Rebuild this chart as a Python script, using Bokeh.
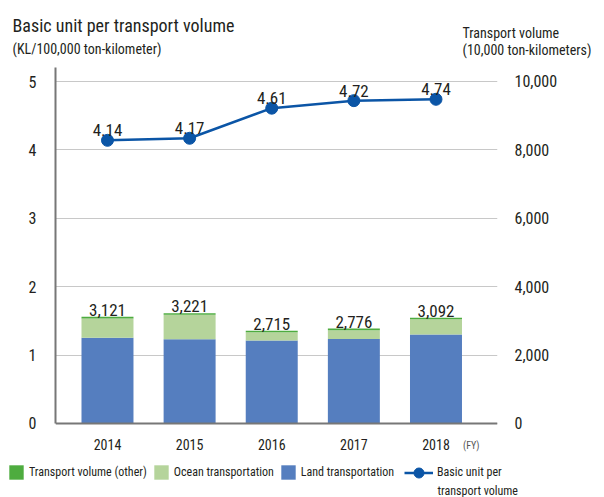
from bokeh.plotting import figure
from bokeh.layouts import column
from bokeh.models import (Range1d, LinearAxis, FixedTicker, Label, Legend, LegendItem,
                          ColumnDataSource)
from bokeh.embed import file_html
from bokeh.resources import INLINE
from bokeh.core.properties import value

# ---- data ----
years = [2014, 2015, 2016, 2017, 2018]
year_labels = ["2014", "2015", "2016", "2017", "2018"]
land = [2510, 2460, 2430, 2470, 2600]
ocean = [560, 720, 240, 260, 445]
totals = [3121, 3221, 2715, 2776, 3092]
other = [t - a - b for t, a, b in zip(totals, land, ocean)]
basic_unit = [4.14, 4.17, 4.61, 4.72, 4.74]
left_ticks = [0, 1, 2, 3, 4, 5]
right_ticks = [0, 2000, 4000, 6000, 8000, 10000]

FONT = "Roboto Condensed"
TXT = "#231f20"
C_LAND = "#557ebf"
C_OCEAN = "#b5d49b"
C_OTHER = "#4eac3f"
C_LINE = "#0b55a6"
W = 604


def blank(height):
    f = figure(width=W, height=height, output_backend="svg", toolbar_location=None,
               x_range=Range1d(0, W), y_range=Range1d(0, height),
               x_axis_type=None, y_axis_type=None, min_border=0)
    f.frame_align = False
    f.outline_line_color = None
    f.xgrid.visible = False
    f.ygrid.visible = False
    return f


def lab(fig, x, y, t, size, color=TXT):
    fig.add_layout(Label(x=x, y=y, x_units="screen", y_units="screen", text=t,
                         text_font=FONT, text_font_size=size, text_color=color,
                         text_baseline="alphabetic"))


# ---------- header ----------
head = blank(67)
lab(head, 12, 42, "Basic unit per transport volume", "18px")
lab(head, 12, 19, "(KL/100,000 ton-kilometer)", "14px")
lab(head, 462, 35, "Transport volume", "14px")
lab(head, 462, 18, "(10,000 ton-kilometers)", "14px")

# ---------- main chart ----------
src = ColumnDataSource(dict(
    x=years, land=land, ocean=ocean, other=other, totals=totals,
    tot_txt=[f"{t:,}" for t in totals],
    unit=basic_unit, unit_txt=[f"{v:.2f}" for v in basic_unit],
))

p = figure(width=W, height=385, output_backend="svg", toolbar_location=None,
           x_range=Range1d(2013.367, 2018.749), y_range=Range1d(-0.424, 5.2047),
           min_border_left=55, min_border_right=107, min_border_top=0,
           min_border_bottom=0)
p.frame_align = False
p.outline_line_color = None
p.extra_y_ranges = {"vol": Range1d(-848, 10409)}

p.xaxis.fixed_location = 0
p.xaxis.ticker = FixedTicker(ticks=years)
p.xaxis.major_label_overrides = {y: l for y, l in zip(years, year_labels)}
p.xaxis.axis_line_color = "#777777"
p.xaxis.axis_line_width = 2
p.xaxis.major_tick_line_color = None
p.xaxis.minor_tick_line_color = None
p.xaxis.major_label_text_font = FONT
p.xaxis.major_label_text_font_size = "14px"
p.xaxis.major_label_text_color = TXT
p.xaxis.major_label_standoff = 10

p.yaxis.ticker = FixedTicker(ticks=left_ticks)
p.yaxis.bounds = (0, 5.2047)
p.yaxis.axis_line_color = "#777777"
p.yaxis.axis_line_width = 2
p.yaxis.major_tick_line_color = None
p.yaxis.minor_tick_line_color = None
p.yaxis.major_label_text_font = FONT
p.yaxis.major_label_text_font_size = "16px"
p.yaxis.major_label_text_color = TXT
p.yaxis.major_label_standoff = 13

ry = LinearAxis(y_range_name="vol", ticker=FixedTicker(ticks=right_ticks))
ry.major_label_overrides = {t: f"{t:,}" for t in right_ticks}
ry.axis_line_color = None
ry.major_tick_line_color = None
ry.minor_tick_line_color = None
ry.major_label_text_font = FONT
ry.major_label_text_font_size = "16px"
ry.major_label_text_color = TXT
ry.major_label_standoff = 11
p.add_layout(ry, "right")

p.xgrid.visible = False
p.ygrid.ticker = FixedTicker(ticks=left_ticks)
p.ygrid.grid_line_color = "#c8c8c8"
p.ygrid.grid_line_width = 1

BAR_COLORS = [C_LAND, C_OCEAN, C_OTHER]
bars = p.vbar_stack(["land", "ocean", "other"], x="x", width=0.633, source=src,
                    color=BAR_COLORS, line_color=None, y_range_name="vol")
line_r = p.line("x", "unit", source=src, line_width=2.5, color=C_LINE)
dot_r = p.scatter("x", "unit", source=src, size=12, color=C_LINE)

p.text("x", "unit", text="unit_txt", source=src, text_align="center",
       text_baseline="alphabetic", y_offset=-10, text_font=value(FONT),
       text_font_size="17px", text_color=TXT)
p.text("x", "totals", text="tot_txt", source=src, text_align="center",
       text_baseline="alphabetic", y_offset=-7, text_font=value(FONT),
       text_font_size="17px", text_color=TXT, y_range_name="vol")
p.text(x=[years[-1]], y=[0], text=["(FY)"], x_offset=27, y_offset=22,
       text_align="left", text_baseline="alphabetic", text_font=value(FONT),
       text_font_size="10px", text_color="#555555")

# ---------- footer (legend) ----------
# renderers reuse the real data; the footer's ranges keep them out of view,
# they only provide legend swatches
foot = blank(45)
f_bars = foot.vbar_stack(["land", "ocean", "other"], x="x", width=0.633, source=src,
                         color=BAR_COLORS, line_color=None)
r_line = foot.line("x", "unit", source=src, line_width=2.5, color=C_LINE)
r_dot = foot.scatter("x", "unit", source=src, size=12, color=C_LINE)

common = dict(orientation="horizontal", padding=0, margin=0,
              label_height=14, label_text_font=FONT, label_text_font_size="12px",
              label_text_color=TXT, border_line_color=None, background_fill_alpha=0)
leg1 = Legend(items=[
    LegendItem(label="Transport volume (other)", renderers=[f_bars[2]]),
    LegendItem(label="Ocean transportation", renderers=[f_bars[1]]),
    LegendItem(label="Land transportation", renderers=[f_bars[0]]),
], location=(7, 16), spacing=5, glyph_width=18, glyph_height=18, label_standoff=4,
    **common)
foot.add_layout(leg1)
leg2 = Legend(items=[
    LegendItem(label="Basic unit per", renderers=[r_line, r_dot]),
], location=(404, 12.5), glyph_width=29, glyph_height=25, label_standoff=4, **common)
foot.add_layout(leg2)
lab(foot, 437, 7, "transport volume", "12px")

layout = column(head, p, foot, spacing=0)
open("out.html", "w").write(file_html(layout, INLINE))
